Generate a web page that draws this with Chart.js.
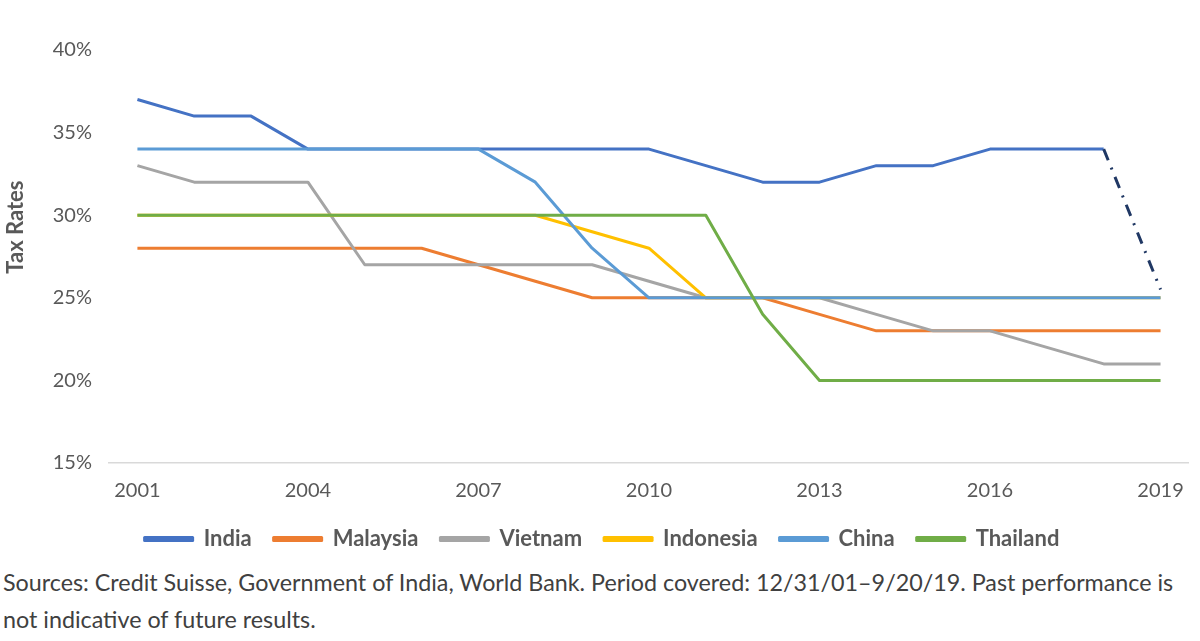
<!DOCTYPE html>
<html>
<head>
<meta charset="utf-8">
<script src="https://cdn.jsdelivr.net/npm/chart.js@4/dist/chart.umd.min.js"></script>
<style>
  html, body { margin: 0; padding: 0; background: #fff; }
  #wrap { position: relative; width: 1200px; height: 560px; }
  #note { font-family: Lato, "Noto Sans", sans-serif; font-size: 23.3px; color: #404040; line-height: 37px; margin: 4px 0 0 3px; width: 1197px; white-space: nowrap; }
</style>
</head>
<body>
<div id="wrap"><canvas id="c" width="1200" height="560"></canvas></div>
<div id="note">Sources: Credit Suisse, Government of India, World Bank. Period covered: 12/31/01–9/20/19. Past performance is<br>not indicative of future results.</div>
<script>
const years = ['2001','2002','2003','2004','2005','2006','2007','2008','2009','2010','2011','2012','2013','2014','2015','2016','2017','2018','2019'];
const india     = [37,36,36,34,34,34,34,34,34,34,33,32,32,33,33,34,34,34,25.5];
const malaysia  = [28,28,28,28,28,28,27,26,25,25,25,25,24,23,23,23,23,23,23];
const vietnam   = [33,32,32,32,27,27,27,27,27,26,25,25,25,24,23,23,22,21,21];
const indonesia = [30,30,30,30,30,30,30,30,29,28,25,25,25,25,25,25,25,25,25];
const china     = [34,34,34,34,34,34,34,32,28,25,25,25,25,25,25,25,25,25,25];
const thailand  = [30,30,30,30,30,30,30,30,30,30,30,24,20,20,20,20,20,20,20];
const yTicks = [15,20,25,30,35,40];

const FONT = 'Lato, "Noto Sans", sans-serif';
const GREY = '#595959';

function ds(label, data, color, order, extra) {
  return Object.assign({
    label, data, borderColor: color, backgroundColor: color,
    borderWidth: 3, pointRadius: 0, pointHoverRadius: 0, tension: 0, order,
    borderJoinStyle: 'round'
  }, extra || {});
}

new Chart(document.getElementById('c'), {
  type: 'line',
  data: {
    labels: years,
    datasets: [
      ds('India', india, '#4472c4', 6, {
        segment: {
          borderColor: ctx => ctx.p1DataIndex === years.length - 1 ? '#203864' : undefined,
          borderDash: ctx => ctx.p1DataIndex === years.length - 1 ? [12, 8, 2, 8] : undefined
        }
      }),
      ds('Malaysia', malaysia, '#ed7d31', 5),
      ds('Vietnam', vietnam, '#a5a5a5', 4),
      ds('Indonesia', indonesia, '#ffc000', 3),
      ds('China', china, '#5b9bd5', 2),
      ds('Thailand', thailand, '#70ad47', 1)
    ]
  },
  options: {
    responsive: false,
    animation: false,
    layout: { padding: { top: 50, right: 10, left: 14, bottom: 0 } },
    plugins: {
      tooltip: { enabled: false },
      legend: {
        position: 'bottom',
        labels: {
          sort: (a, b) => a.datasetIndex - b.datasetIndex,
          boxWidth: 48, boxHeight: 3, padding: 22,
          color: GREY,
          font: { family: FONT, size: 22, weight: 'bold' }
        }
      }
    },
    scales: {
      x: {
        offset: true,
        afterFit: axis => { axis.height -= 13; },
        grid: { display: false, drawTicks: false },
        border: { display: true, color: '#d9d9d9', width: 1.5 },
        ticks: {
          autoSkip: false, maxRotation: 0, padding: 16,
          color: GREY, font: { family: FONT, size: 20 },
          callback: function(v, i) { return i % 3 === 0 ? years[i] : ''; }
        }
      },
      y: {
        min: 15, max: 40,
        afterBuildTicks: axis => { axis.ticks = yTicks.map(v => ({ value: v })); },
        afterFit: axis => { axis.width = 95; },
        grid: { display: false, drawTicks: false },
        border: { display: false },
        title: { display: true, text: '           Tax Rates', color: GREY, font: { family: FONT, size: 22, weight: 'bold' }, padding: { top: -11, bottom: 10 } },
        ticks: {
          padding: 17, color: GREY, font: { family: FONT, size: 20 },
          callback: v => v + '%'
        }
      }
    }
  }
});
</script>
</body>
</html>
